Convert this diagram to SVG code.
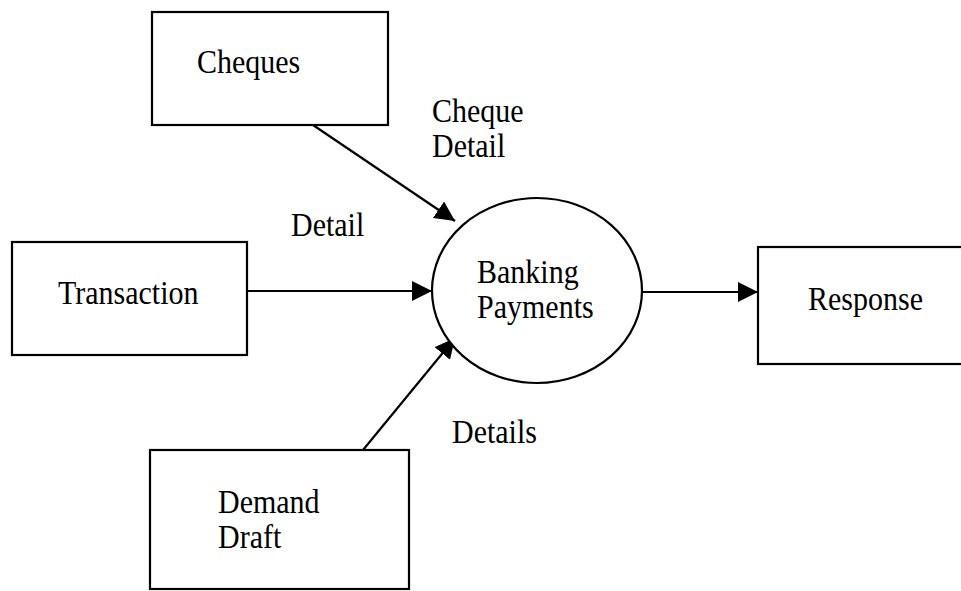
<svg xmlns="http://www.w3.org/2000/svg" width="961" height="591" viewBox="0 0 961 591">
  <style>
    .box { fill: #ffffff; stroke: #000000; stroke-width: 2.2; }
    .proc { fill: #ffffff; stroke: #000000; stroke-width: 2.2; }
    .flow { fill: none; stroke: #000000; stroke-width: 2.2; }
    .lbl { font-family: "Liberation Serif", "Times New Roman", serif; font-size: 30px; fill: #000000; }
  </style>
  <defs>
    <marker id="arrow" markerUnits="userSpaceOnUse" markerWidth="20" markerHeight="20" refX="20" refY="10" orient="auto" viewBox="0 0 20 20">
      <path d="M0,0 L20,10 L0,20 z" fill="#000000"/>
    </marker>
  </defs>
  <rect width="961" height="591" fill="#ffffff"/>

  <!-- data flows -->
  <g id="connectors">
    <line class="flow" x1="313" y1="125" x2="455" y2="221" marker-end="url(#arrow)"/>
    <line class="flow" x1="247" y1="291" x2="432" y2="291" marker-end="url(#arrow)"/>
    <line class="flow" x1="363" y1="450" x2="455" y2="338" marker-end="url(#arrow)"/>
    <line class="flow" x1="642" y1="292" x2="758" y2="292" marker-end="url(#arrow)"/>
    <text class="lbl" transform="translate(432,122) scale(1,1.12)">Cheque<tspan x="0" dy="31">Detail</tspan></text>
    <text class="lbl" transform="translate(291,236) scale(1,1.12)">Detail</text>
    <text class="lbl" transform="translate(452,443) scale(1,1.12)">Details</text>
  </g>

  <g id="cheques">
    <rect class="box" x="152" y="12" width="236" height="113"/>
    <text class="lbl" transform="translate(197,73) scale(1,1.12)">Cheques</text>
  </g>

  <g id="transaction">
    <rect class="box" x="12" y="242" width="235" height="113"/>
    <text class="lbl" transform="translate(58,304) scale(1,1.12)">Transaction</text>
  </g>

  <g id="banking-payments">
    <ellipse class="proc" cx="537" cy="290.5" rx="105" ry="92.5"/>
    <text class="lbl" transform="translate(477,283) scale(1,1.12)">Banking<tspan x="0" dy="31.5">Payments</tspan></text>
  </g>

  <g id="response">
    <rect class="box" x="758" y="247" width="210" height="117"/>
    <text class="lbl" transform="translate(808,310) scale(1,1.12)">Response</text>
  </g>

  <g id="demand-draft">
    <rect class="box" x="150" y="450" width="259" height="139"/>
    <text class="lbl" transform="translate(218,513) scale(1,1.12)">Demand<tspan x="0" dy="31">Draft</tspan></text>
  </g>
</svg>
